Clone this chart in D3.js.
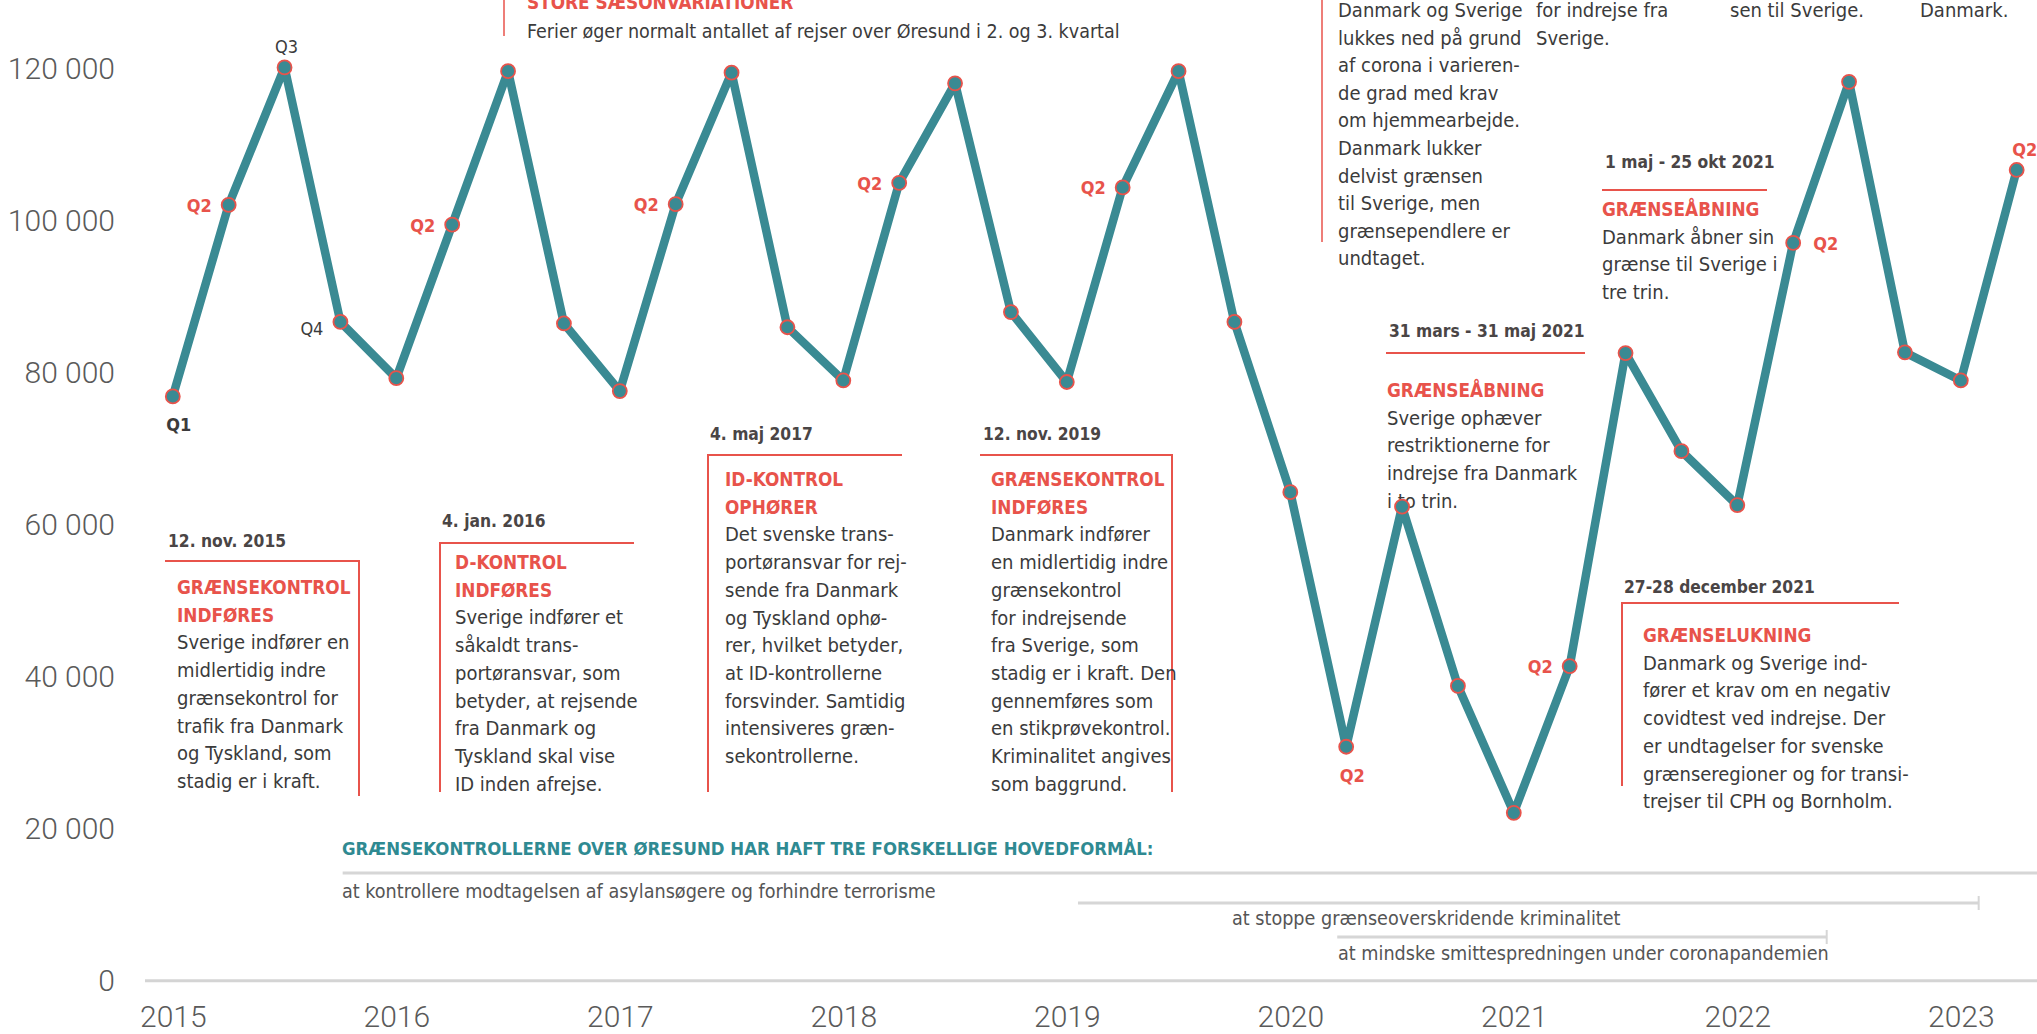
<!DOCTYPE html>
<html>
<head>
<meta charset="utf-8">
<script src="https://cdn.jsdelivr.net/npm/d3@7"></script>
<style>
  body { margin: 0; background: #fff; }
  svg { display: block; font-family: "Liberation Sans Narrow", "DejaVu Sans Condensed", "DejaVu Sans", sans-serif; }
</style>
</head>
<body>
<div id="chart"></div>
<script>
// Quarterly crossings over Øresund, 2015 Q1 .. 2023 Q2
const firstYear = 2015
const quarterValues = [
  76900, 102100, 120200, 86700,
  79300, 99500, 119700, 86500,
  77600, 102200, 119500, 86000,
  79000, 105000, 118100, 88000,
  78800, 104400, 119700, 86700,
  64300, 30800, 62400, 38800,
  22100, 41400, 82600, 69700,
  62600, 97100, 118300, 82700,
  79000, 106700
]
const yearTicks = [2015, 2016, 2017, 2018, 2019, 2020, 2021, 2022, 2023]
const valueTicks = [0, 20000, 40000, 60000, 80000, 100000, 120000]

// quarter labels: index into quarterValues, text, placement
const quarterLabels = [
  { i: 0, text: "Q1", place: "below", kind: "dark" },
  { i: 1, text: "Q2", place: "left", kind: "red" },
  { i: 2, text: "Q3", place: "above", kind: "light" },
  { i: 3, text: "Q4", place: "left", kind: "light" },
  { i: 5, text: "Q2", place: "left", kind: "red" },
  { i: 9, text: "Q2", place: "left", kind: "red" },
  { i: 13, text: "Q2", place: "left", kind: "red" },
  { i: 17, text: "Q2", place: "left", kind: "red" },
  { i: 21, text: "Q2", place: "below", kind: "red" },
  { i: 25, text: "Q2", place: "left", kind: "red" },
  { i: 29, text: "Q2", place: "right", kind: "red" },
  { i: 33, text: "Q2", place: "above", kind: "red" }
]

// event notes
const noteDates = ["12. nov. 2015", "4. jan. 2016", "4. maj 2017", "12. nov. 2019",
  "31 mars - 31 maj 2021", "1 maj - 25 okt 2021", "27-28 december 2021"]
const noteTitles = [
  ["GRÆNSEKONTROL", "INDFØRES"],
  ["D-KONTROL", "INDFØRES"],
  ["ID-KONTROL", "OPHØRER"],
  ["GRÆNSEKONTROL", "INDFØRES"],
  ["GRÆNSEÅBNING"],
  ["GRÆNSEÅBNING"],
  ["GRÆNSELUKNING"]
]
const noteBodies = [
  ["Sverige indfører en", "midlertidig indre", "grænsekontrol for", "trafik fra Danmark", "og Tyskland, som", "stadig er i kraft."],
  ["Sverige indfører et", "såkaldt trans-", "portøransvar, som", "betyder, at rejsende", "fra Danmark og", "Tyskland skal vise", "ID inden afrejse."],
  ["Det svenske trans-", "portøransvar for rej-", "sende fra Danmark", "og Tyskland ophø-", "rer, hvilket betyder,", "at ID-kontrollerne", "forsvinder. Samtidig", "intensiveres græn-", "sekontrollerne."],
  ["Danmark indfører", "en midlertidig indre", "grænsekontrol", "for indrejsende", "fra Sverige, som", "stadig er i kraft. Den", "gennemføres som", "en stikprøvekontrol.", "Kriminalitet angives", "som baggrund."],
  ["Sverige ophæver", "restriktionerne for", "indrejse fra Danmark", "i to trin."],
  ["Danmark åbner sin", "grænse til Sverige i", "tre trin."],
  ["Danmark og Sverige ind-", "fører et krav om en negativ", "covidtest ved indrejse. Der", "er undtagelser for svenske", "grænseregioner og for transi-", "trejser til CPH og Bornholm."]
]

// partly visible notes at the top edge
const seasonTitle = "STORE SÆSONVARIATIONER"
const seasonText = "Ferier øger normalt antallet af rejser over Øresund i 2. og 3. kvartal"
const topColumns = [
  ["Danmark og Sverige", "lukkes ned på grund", "af corona i varieren-", "de grad med krav", "om hjemmearbejde.", "Danmark lukker", "delvist grænsen", "til Sverige, men", "grænsependlere er", "undtaget."],
  ["for indrejse fra", "Sverige."],
  ["sen til Sverige."],
  ["Danmark."]
]

// purposes of the border controls (start / end in fractional years)
const purposeHeading = "GRÆNSEKONTROLLERNE OVER ØRESUND HAR HAFT TRE FORSKELLIGE HOVEDFORMÅL:"
const purposeLabels = ["at kontrollere modtagelsen af asylansøgere og forhindre terrorisme",
  "at stoppe grænseoverskridende kriminalitet",
  "at mindske smittespredningen under coronapandemien"]
const purposeStart = [2015.76, 2019.05, 2020.21]
const purposeEnd = [null, 2023.08, 2022.40]

// ---- layout
const W = 2037, H = 1034
const teal = "#3a8a93", red = "#e8534b", ink = "#3b3b3b", grey = "#555"

const svg = d3.select("#chart").append("svg").attr("width", W).attr("height", H)

const x = d3.scaleLinear().domain([2015, 2023]).range([172.8, 1960.8])
const y = d3.scaleLinear().domain([0, 120000]).range([980.8, 68.9])
const qx = (i) => x(firstYear + i / 4)

// y axis labels
const yaxis = d3.axisLeft(y).tickValues(valueTicks).tickSize(0).tickPadding(0)
  .tickFormat((d) => d3.format(",")(d).replace(/,/g, " "))
const gy = svg.append("g").attr("transform", "translate(115,0)").call(yaxis)
gy.select(".domain").remove()
gy.selectAll("text").attr("font-size", 30).attr("fill", "#5a5a5a")
  .attr("font-family", "Roboto, sans-serif").attr("font-weight", 300)

// x axis labels
const xaxis = d3.axisBottom(x).tickValues(yearTicks).tickSize(0).tickPadding(0).tickFormat(d3.format("d"))
const gx = svg.append("g").attr("transform", "translate(0,1006)").call(xaxis)
gx.select(".domain").remove()
gx.selectAll("text").attr("font-size", 30).attr("fill", "#5a5a5a")
  .attr("font-family", "Roboto, sans-serif").attr("font-weight", 300)

// baseline
svg.append("line").attr("x1", 145).attr("x2", W).attr("y1", y(0)).attr("y2", y(0))
  .attr("stroke", "#d4d4d4").attr("stroke-width", 3)

// ---- top-edge notes
svg.append("line").attr("x1", 504).attr("x2", 504).attr("y1", 0).attr("y2", 36).attr("stroke", red).attr("stroke-width", 1.5)
svg.append("text").attr("x", 527).attr("y", 9).text(seasonTitle)
  .attr("fill", red).attr("font-weight", 700).attr("font-size", 18.8)
svg.append("text").attr("x", 527).attr("y", 38).text(seasonText)
  .attr("fill", ink).attr("font-size", 19.5)

svg.append("line").attr("x1", 1322).attr("x2", 1322).attr("y1", 0).attr("y2", 242).attr("stroke", red).attr("stroke-width", 1.5)
const colX = [1338, 1536, 1730, 1920]
topColumns.forEach((lines, c) => {
  svg.append("g").selectAll("text").data(lines).join("text")
    .attr("x", colX[c]).attr("y", (d, k) => 17 + k * 27.6)
    .attr("fill", ink).attr("font-size", 20).text((d) => d)
})

// ---- event notes
const noteLayout = [
  { x0: 165, x1: 360, rule: 561, side: "right", bottom: 796, tx: 177, dateY: 547, titleY: 594 },
  { x0: 439, x1: 634, rule: 543, side: "left", bottom: 792, tx: 455, dateY: 527, titleY: 569 },
  { x0: 707, x1: 902, rule: 455, side: "left", bottom: 792, tx: 725, dateY: 440, titleY: 486 },
  { x0: 980, x1: 1173, rule: 455, side: "right", bottom: 792, tx: 991, dateY: 440, titleY: 486 },
  { x0: 1386, x1: 1585, rule: 353, side: "none", bottom: 0, tx: 1387, dateY: 337, titleY: 397 },
  { x0: 1602, x1: 1767, rule: 190, side: "none", bottom: 0, tx: 1602, dateY: 168, titleY: 216 },
  { x0: 1621, x1: 1899, rule: 603, side: "left", bottom: 786, tx: 1643, dateY: 593, titleY: 642 }
]
const lh = 27.7
noteDates.forEach((date, n) => {
  const L = noteLayout[n]
  const g = svg.append("g")
  g.append("text").attr("x", L.x0 + 3).attr("y", L.dateY).text(date)
    .attr("fill", "#4a4545").attr("font-weight", 700).attr("font-size", 17.3)
  g.append("line").attr("x1", L.x0).attr("x2", L.x1).attr("y1", L.rule).attr("y2", L.rule)
    .attr("stroke", red).attr("stroke-width", 2)
  if (L.side !== "none") {
    const vx = L.side === "left" ? L.x0 + 1 : L.x1 - 1
    g.append("line").attr("x1", vx).attr("x2", vx).attr("y1", L.rule).attr("y2", L.bottom)
      .attr("stroke", red).attr("stroke-width", 2)
  }
  const lines = noteTitles[n].map((t) => ({ t, title: true })).concat(noteBodies[n].map((t) => ({ t, title: false })))
  g.selectAll("text.l").data(lines).join("text").attr("class", "l")
    .attr("x", L.tx).attr("y", (d, k) => L.titleY + k * lh)
    .attr("fill", (d) => d.title ? red : ink)
    .attr("font-weight", (d) => d.title ? 700 : 400)
    .attr("font-size", (d) => d.title ? 18.8 : 20)
    .text((d) => d.t)
})

// ---- purposes
svg.append("text").attr("x", 342).attr("y", 855).text(purposeHeading)
  .attr("fill", "#2f8a92").attr("font-weight", 700).attr("font-size", 18.4)
const purposeLineY = [873, 903, 937]
const purposeTextPos = [{ x: 342, y: 898 }, { x: 1232, y: 925 }, { x: 1338, y: 960 }]
purposeLabels.forEach((label, p) => {
  const x1 = purposeEnd[p] === null ? W : x(purposeEnd[p])
  const ly = purposeLineY[p]
  svg.append("line").attr("x1", x(purposeStart[p])).attr("x2", x1).attr("y1", ly).attr("y2", ly)
    .attr("stroke", "#d6d6d6").attr("stroke-width", 3)
  if (purposeEnd[p] !== null) {
    svg.append("line").attr("x1", x1).attr("x2", x1).attr("y1", ly - 7).attr("y2", ly + 7)
      .attr("stroke", "#d6d6d6").attr("stroke-width", 2)
  }
  svg.append("text").attr("x", purposeTextPos[p].x).attr("y", purposeTextPos[p].y).text(label)
    .attr("fill", grey).attr("font-size", 19.6)
})

// ---- the line
const line = d3.line().x((d, i) => qx(i)).y((d) => y(d))
svg.append("path").datum(quarterValues).attr("d", line)
  .attr("fill", "none").attr("stroke", teal).attr("stroke-width", 8.5).attr("stroke-linejoin", "round")
svg.append("g").selectAll("circle").data(quarterValues).join("circle")
  .attr("cx", (d, i) => qx(i)).attr("cy", (d) => y(d)).attr("r", 7)
  .attr("fill", teal).attr("stroke", red).attr("stroke-width", 1.8)

// quarter labels
const place = {
  below: { dx: 6, dy: 35, anchor: "middle" },
  above: { dx: 2, dy: -14, anchor: "middle" },
  left: { dx: -17, dy: 7, anchor: "end" },
  right: { dx: 20, dy: 7, anchor: "start" }
}
svg.append("g").selectAll("text").data(quarterLabels).join("text")
  .attr("x", (d) => qx(d.i) + place[d.place].dx + (d.i === 33 ? 6 : 0))
  .attr("y", (d) => y(quarterValues[d.i]) + place[d.place].dy + (d.i === 3 ? 6 : 0))
  .attr("text-anchor", (d) => place[d.place].anchor)
  .attr("fill", (d) => d.kind === "red" ? red : ink)
  .attr("font-weight", (d) => d.kind === "light" ? 400 : 700)
  .attr("font-size", 18)
  .text((d) => d.text)
</script>
</body>
</html>
